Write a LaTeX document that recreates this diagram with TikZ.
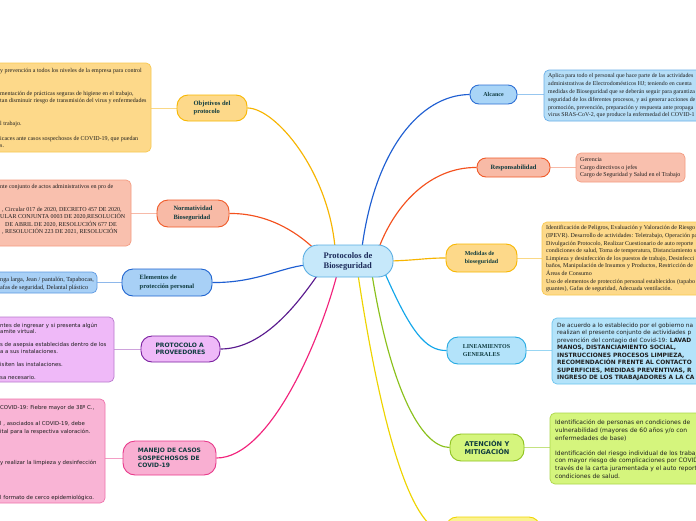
\documentclass[tikz,border=0pt]{standalone}
\usepackage{fontspec}
\setmainfont{Liberation Serif}
\newfontfamily\sansf{DejaVu Sans}
\usetikzlibrary{backgrounds}
\definecolor{ctrfill}{HTML}{C6E8FA}\definecolor{ctrdraw}{HTML}{5AAEE3}
\definecolor{alcfill}{HTML}{A9D5F7}\definecolor{alcdraw}{HTML}{2E6FD4}
\definecolor{alcbfill}{HTML}{B6DEF7}\definecolor{alcbdraw}{HTML}{6AAEE8}
\definecolor{respfill}{HTML}{F8BAA6}\definecolor{respdraw}{HTML}{F05A28}
\definecolor{respbfill}{HTML}{F9C0AE}\definecolor{respbdraw}{HTML}{F49C82}
\definecolor{medfill}{HTML}{FDD98A}\definecolor{meddraw}{HTML}{F8B700}
\definecolor{medbdraw}{HTML}{F8C850}
\definecolor{linfill}{HTML}{B3E3FA}\definecolor{lindraw}{HTML}{26AAE2}
\definecolor{linbdraw}{HTML}{6CC4EE}
\definecolor{atefill}{HTML}{D5F57D}\definecolor{atedraw}{HTML}{8EC21E}
\definecolor{atebdraw}{HTML}{ABD64A}
\definecolor{eppfill}{HTML}{A8D0F6}\definecolor{eppdraw}{HTML}{1E63CF}
\definecolor{eppbdraw}{HTML}{5D99E2}
\definecolor{provfill}{HTML}{EFB9F8}\definecolor{provdraw}{HTML}{7A1FA0}
\definecolor{provbdraw}{HTML}{B97ACD}
\definecolor{manfill}{HTML}{F9AFD2}\definecolor{mandraw}{HTML}{E83A8B}
\definecolor{manbfill}{HTML}{F9B4D5}\definecolor{manbdraw}{HTML}{EE73AC}
\definecolor{yelfill}{HTML}{FBF28F}\definecolor{yeldraw}{HTML}{F0D600}
\definecolor{cblue}{HTML}{1F5FD2}\definecolor{cred}{HTML}{F4511E}
\definecolor{camber}{HTML}{F7B500}\definecolor{clight}{HTML}{12A6EA}
\definecolor{cgreen}{HTML}{8BC11C}\definecolor{cyel}{HTML}{EED400}
\definecolor{cpurple}{HTML}{5A1A8E}\definecolor{cpink}{HTML}{F2237C}
\definecolor{nodetext}{HTML}{0F3B3F}\definecolor{ctrtext}{HTML}{1C2B5A}
\definecolor{bodytext}{HTML}{1E1E1E}
\begin{document}
\begin{tikzpicture}[x=1pt,y=-1pt,
  branch/.style={rounded corners=11pt, draw, line width=0.9pt, inner sep=0pt,
     align=left, text=nodetext, font=\bfseries\fontsize{6.5}{8.3}\selectfont},
  sbranch/.style={branch, font=\sansf\bfseries\fontsize{6}{7.5}\selectfont},
  tbox/.style={rounded corners=5pt, draw, line width=0.7pt, inner sep=0pt},
  serifbody/.style={anchor=north west, inner sep=0pt, align=left, text=bodytext,
     font=\fontsize{6}{7.6}\selectfont},
  sansbody/.style={anchor=north west, inner sep=0pt, align=left, text=bodytext,
     font=\sansf\fontsize{5.8}{7.6}\selectfont},
  main/.style={line width=1.15pt},
  feeder/.style={line width=0.9pt}
]
\useasboundingbox (0,0) rectangle (696,520);
\newcommand{\fl}{\rule{0pt}{4.2pt}}
\newcommand{\bc}{\bfseries\fontsize{5.9}{7.5}\selectfont}
% central node
\node[rounded corners=15pt, draw=ctrdraw, fill=ctrfill, line width=0.9pt, inner sep=0pt,
  minimum width=90pt, minimum height=32pt, align=left, text=ctrtext,
  font=\bfseries\fontsize{8.5}{10}\selectfont] (ctr) at (348,261) {Protocolos de\\Bioseguridad};

% right branches
\node[branch, fill=alcfill, draw=alcdraw, minimum width=47pt, minimum height=19pt,
  rounded corners=9pt, font=\bfseries\fontsize{6}{7.5}\selectfont] (alc) at (493.5,94.5) {Alcance};
\node[tbox, fill=alcbfill, draw=alcbdraw, minimum width=216pt, minimum height=51pt] (alcbox) at (652,95.5) {};
\node[serifbody, font=\fontsize{5.9}{7.8}\selectfont] (alctext) at (548,73.5) {\fl Aplica para todo el personal que hace parte de las actividades\\administrativas de Electrodomésticos HJ; teniendo en cuenta\\medidas de Bioseguridad que se deberán seguir para garantiza\\seguridad de los diferentes procesos, y así generar acciones de\\promoción, prevención, preparación y respuesta ante propaga\\virus SRAS-CoV-2, que produce la enfermedad del COVID-1};

\node[branch, fill=respfill, draw=respdraw, minimum width=73pt, minimum height=19pt,
  rounded corners=9pt] (resp) at (513.5,167.5) {Responsabilidad};
\node[tbox, fill=respbfill, draw=respbdraw, minimum width=109pt, minimum height=29pt] (respbox) at (630.5,167.5) {};
\node[serifbody, font=\fontsize{6}{7.5}\selectfont] (resptext) at (580,157.5) {\fl Gerencia\\Cargo directivos o jefes\\Cargo de Seguridad y Salud en el Trabajo};

\node[branch, fill=medfill, draw=meddraw, minimum width=71pt, minimum height=28pt,
  font=\bfseries\fontsize{6}{8}\selectfont] (med) at (481.5,258) {Medidas de\\bioseguridad};
\node[tbox, fill=medfill, draw=medbdraw, minimum width=218pt, minimum height=73pt] (medbox) at (651,258.5) {};
\node[serifbody] (medtext) at (546,225.5) {\fl Identificación de Peligros, Evaluación y Valoración de Riesgo\\(IPEVR). Desarrollo de actividades: Teletrabajo, Operación pa\\Divulgación Protocolo, Realizar Cuestionario de auto reporte\\condiciones de salud, Toma de temperatura, Distanciamiento s\\Limpieza y desinfección de los puestos de trabajo, Desinfecci\\baños, Manipulación de Insumos y Productos, Restricción de\\Áreas de Consumo\\Uso de elementos de protección personal establecidos (tapabo\\guantes), Gafas de seguridad, Adecuada ventilación.};

\node[branch, fill=linfill, draw=lindraw, minimum width=79pt, minimum height=27pt,
  font=\bfseries\fontsize{6}{8}\selectfont] (lin) at (486.5,350.5) {LINEAMIENTOS\\GENERALES};
\node[tbox, fill=linfill, draw=linbdraw, minimum width=208pt, minimum height=66pt] (linbox) at (656,351) {};
\node[sansbody, font=\sansf\fontsize{5.8}{7.5}\selectfont] (lintext) at (557,322.5) {\fl De acuerdo a lo establecido por el gobierno na\\realizan el presente conjunto de actividades p\\prevención del contagio del Covid-19: {\bc LAVAD}\\{\bc MANOS, DISTANCIAMIENTO SOCIAL,}\\{\bc INSTRUCCIONES PROCESOS LIMPIEZA,}\\{\bc RECOMENDACIÓN FRENTE AL CONTACTO}\\{\bc SUPERFICIES, MEDIDAS PREVENTIVAS, R}\\{\bc INGRESO DE LOS TRABAJADORES A LA CA}};

\node[sbranch, fill=atefill, draw=atedraw, minimum width=74pt, minimum height=27pt, align=center,
  font=\sansf\bfseries\fontsize{6.6}{7.5}\selectfont] (ate) at (487,447.5) {ATENCIÓN Y\\MITIGACIÓN};
\node[tbox, fill=atefill, draw=atebdraw, minimum width=210pt, minimum height=71pt] (atebox) at (655,448.5) {};
\node[sansbody, font=\sansf\fontsize{6}{7.8}\selectfont] (atetext) at (555,419.5) {\fl Identificación de personas en condiciones de\\vulnerabilidad (mayores de 60 años y/o con\\enfermedades de base)\\[7.2pt]Identificación del riesgo individual de los trabaj\\con mayor riesgo de complicaciones por COVID\\través de la carta juramentada y el auto report\\condiciones de salud.};

\node[branch, fill=yelfill, draw=yeldraw, minimum width=94pt, minimum height=30pt] (yel) at (493,532) {};

% left branches
\node[branch, fill=medfill, draw=meddraw, minimum width=70pt, minimum height=26pt] (obj) at (212,108) {Objetivos del\\protocolo};
\node[tbox, fill=medfill, draw=medbdraw, minimum width=211pt, minimum height=89pt] (objbox) at (45.5,107.5) {};
\node[serifbody, font=\fontsize{6}{7.5}\selectfont] (objtext) at (0,68.5) {\fl y prevención a todos los niveles de la empresa para control\\[15pt]mentación de prácticas seguras de higiene en el trabajo,\\tan disminuir riesgo de transmisión del virus y enfermedades\\[15pt]l trabajo.\\[7.5pt]icaces ante casos sospechosos de COVID-19, que puedan\\s.};

\node[branch, fill=respfill, draw=respdraw, minimum width=72pt, minimum height=27pt] (norm) at (193,213.5) {Normatividad\\Bioseguridad};
\node[tbox, fill=respbfill, draw=respbdraw, minimum width=191pt, minimum height=66pt] (normbox) at (35.5,213) {};
\node[serifbody, font=\fontsize{6}{7.5}\selectfont] (normtext) at (0,184.5) {\fl nte conjunto de actos administrativos en pro de\\[15pt]\hspace*{2pt}, Circular 017 de 2020, DECRETO 457 DE 2020,\\ULAR CONJUNTA 0003 DE 2020,RESOLUCIÓN\\\hspace*{5pt}DE ABRIL DE 2020, RESOLUCIÓN 677 DE\\\hspace*{2pt}, RESOLUCIÓN 223 DE 2021, RESOLUCIÓN};

\node[branch, fill=eppfill, draw=eppdraw, minimum width=90pt, minimum height=27pt] (epp) at (167,282.5) {Elementos de\\protección personal};
\node[tbox, fill=eppfill, draw=eppbdraw, minimum width=157pt, minimum height=21pt] (eppbox) at (18.5,282.5) {};
\node[serifbody, font=\fontsize{6.2}{8}\selectfont] (epptext) at (0,276.5) {\fl nga larga, Jean / pantalón, Tapabocas,\\afas de seguridad, Delantal plástico};

\node[sbranch, fill=provfill, draw=provdraw, minimum width=79pt, minimum height=26pt] (prov) at (180.5,349) {PROTOCOLO A\\PROVEEDORES};
\node[tbox, fill=provfill, draw=provbdraw, minimum width=174pt, minimum height=65pt] (provbox) at (27,349.5) {};
\node[sansbody, font=\sansf\fontsize{5.4}{6.5}\selectfont] (provtext) at (0,322.5) {\fl ntes de ingresar y si presenta algún\\amite virtual.\\[6.5pt]s de asepsia establecidas dentro de los\\a a sus instalaciones.\\[6.5pt]isiten las instalaciones.\\[6.5pt]sa necesario.};

\node[sbranch, fill=manfill, draw=mandraw, minimum width=93pt, minimum height=34pt, rounded corners=12pt] (man) at (169.5,458) {MANEJO DE CASOS\\SOSPECHOSOS DE\\COVID-19};
\node[tbox, fill=manbfill, draw=manbdraw, minimum width=165pt, minimum height=104pt] (manbox) at (22.5,451) {};
\node[sansbody, font=\sansf\fontsize{5.4}{7.5}\selectfont] (mantext) at (0,405.5) {\fl COVID-19: Fiebre mayor de 38º C.,\\[8.5pt]l , asociados al COVID-19, debe\\ital para la respectiva valoración.\\[23.5pt]y realizar la limpieza y desinfección\\[27.5pt]l formato de cerco epidemiológico.};

\begin{pgfonlayer}{background}
\fill[white] (0,0) rectangle (696,520);
% main curves
\draw[main, cblue] ([xshift=14pt,yshift=-3pt]ctr.north) .. controls (375,150) and (420,95) .. (alc.west);
\draw[main, cred] ([xshift=31pt,yshift=-3pt]ctr.north) .. controls (395,205) and (430,167) .. (resp.west);
\draw[main, camber] ([xshift=-3pt]ctr.east) .. controls (420,260) and (425,258) .. (med.west);
\draw[main, clight] ([xshift=37pt,yshift=4pt]ctr.south) .. controls (410,330) and (425,351) .. (lin.west);
\draw[main, cgreen] ([xshift=24pt,yshift=3pt]ctr.south) .. controls (390,385) and (420,447) .. (ate.west);
\draw[main, cyel] ([xshift=10pt,yshift=3pt]ctr.south) .. controls (380,420) and (410,532) .. (yel.west);
\draw[main, camber] (obj.east) .. controls (275,108) and (328,170) .. ([xshift=-13pt,yshift=-3pt]ctr.north);
\draw[main, cred] (norm.east) .. controls (265,213) and (295,230) .. ([xshift=-33pt,yshift=-5pt]ctr.north);
\draw[main, cblue] (epp.east) .. controls (255,283) and (280,268) .. ([xshift=3pt,yshift=-4pt]ctr.west);
\draw[main, cpurple] (prov.east) .. controls (265,349) and (300,300) .. ([xshift=-30pt,yshift=3pt]ctr.south);
\draw[main, cpink] (man.east) .. controls (270,458) and (320,340) .. ([xshift=-11pt,yshift=3pt]ctr.south);
% feeders
\draw[feeder, alcbdraw!70] (alc.east) -- (alc.east -| alcbox.west);
\draw[feeder, respbdraw!70] (resp.east) -- (resp.east -| respbox.west);
\draw[feeder, medbdraw!70] (med.east) -- (med.east -| medbox.west);
\draw[feeder, linbdraw!70] (lin.east) -- (lin.east -| linbox.west);
\draw[feeder, atebdraw!70] (ate.east) -- (ate.east -| atebox.west);
\draw[feeder, medbdraw!70] (obj.west) -- (obj.west -| objbox.east);
\draw[feeder, respbdraw!70] (norm.west) -- (norm.west -| normbox.east);
\draw[feeder, eppbdraw!70] (epp.west) -- (epp.west -| eppbox.east);
\draw[feeder, provbdraw!70] (prov.west) -- (prov.west -| provbox.east);
\draw[feeder, manbdraw!70] (man.west) -- (man.west -| manbox.east);
\end{pgfonlayer}
\end{tikzpicture}
\end{document}
